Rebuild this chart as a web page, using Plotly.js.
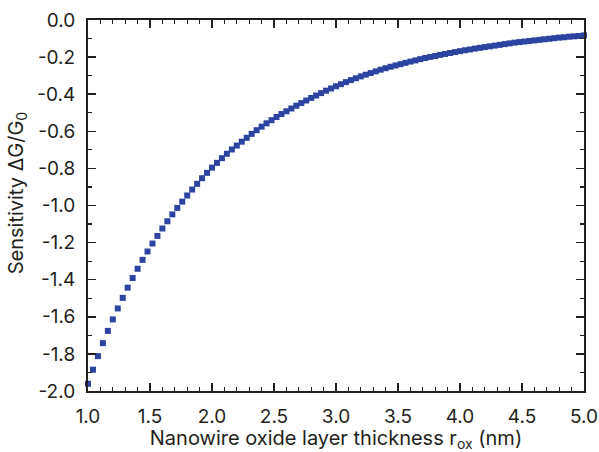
<!DOCTYPE html>
<html>
<head>
<meta charset="utf-8">
<script src="https://cdn.plot.ly/plotly-3.0.1.min.js"></script>
<style>
  html, body { margin: 0; padding: 0; background: #fff; }
  #chart { width: 599px; height: 452px; }
</style>
</head>
<body>
<div id="chart"></div>
<script>
// Oxide layer thickness r_ox (nm)
const thickness = [
  1.00, 1.04, 1.08, 1.12, 1.16, 1.20, 1.24, 1.28, 1.32, 1.36,
  1.40, 1.44, 1.48, 1.52, 1.56, 1.60, 1.64, 1.68, 1.72, 1.76,
  1.80, 1.84, 1.88, 1.92, 1.96, 2.00, 2.04, 2.08, 2.12, 2.16,
  2.20, 2.24, 2.28, 2.32, 2.36, 2.40, 2.44, 2.48, 2.52, 2.56,
  2.60, 2.64, 2.68, 2.72, 2.76, 2.80, 2.84, 2.88, 2.92, 2.96,
  3.00, 3.04, 3.08, 3.12, 3.16, 3.20, 3.24, 3.28, 3.32, 3.36,
  3.40, 3.44, 3.48, 3.52, 3.56, 3.60, 3.64, 3.68, 3.72, 3.76,
  3.80, 3.84, 3.88, 3.92, 3.96, 4.00, 4.04, 4.08, 4.12, 4.16,
  4.20, 4.24, 4.28, 4.32, 4.36, 4.40, 4.44, 4.48, 4.52, 4.56,
  4.60, 4.64, 4.68, 4.72, 4.76, 4.80, 4.84, 4.88, 4.92, 4.96,
  5.00
];

// Sensitivity dG/G0 at each thickness
const sensitivity = [
  -1.961, -1.885, -1.812, -1.742, -1.676, -1.614, -1.555, -1.498, -1.443, -1.391,
  -1.341, -1.293, -1.248, -1.205, -1.164, -1.124, -1.085, -1.048, -1.013, -0.979,
  -0.946, -0.914, -0.883, -0.853, -0.824, -0.796, -0.770, -0.745, -0.721, -0.698,
  -0.677, -0.656, -0.635, -0.614, -0.594, -0.575, -0.557, -0.540, -0.523, -0.507,
  -0.492, -0.477, -0.462, -0.448, -0.434, -0.420, -0.407, -0.394, -0.381, -0.369,
  -0.357, -0.346, -0.335, -0.324, -0.314, -0.304, -0.295, -0.286, -0.277, -0.268,
  -0.260, -0.252, -0.245, -0.238, -0.231, -0.224, -0.218, -0.211, -0.205, -0.199,
  -0.194, -0.188, -0.183, -0.178, -0.173, -0.168, -0.163, -0.159, -0.154, -0.150,
  -0.146, -0.142, -0.138, -0.134, -0.130, -0.126, -0.122, -0.119, -0.116, -0.113,
  -0.110, -0.107, -0.104, -0.101, -0.098, -0.095, -0.093, -0.090, -0.088, -0.086,
  -0.083
];

const xTickValues = [1.0, 1.5, 2.0, 2.5, 3.0, 3.5, 4.0, 4.5, 5.0];
const xTickLabels = ['1.0', '1.5', '2.0', '2.5', '3.0', '3.5', '4.0', '4.5', '5.0'];
const yTickValues = [0.0, -0.2, -0.4, -0.6, -0.8, -1.0, -1.2, -1.4, -1.6, -1.8, -2.0];
const yTickLabels = ['0.0', '-0.2', '-0.4', '-0.6', '-0.8', '-1.0', '-1.2', '-1.4', '-1.6', '-1.8', '-2.0'];

const xTitle = 'Nanowire oxide layer thickness r<sub>ox</sub> (nm)';
const yTitle = 'Sensitivity \u0394G/G<sub>0</sub>';

const FONT = 'Inter, Liberation Sans, Arial, sans-serif';
const INK = '#231f20';

const trace = {
  type: 'scatter',
  mode: 'markers',
  x: thickness,
  y: sensitivity,
  cliponaxis: false,
  marker: { symbol: 'square', size: 6, color: '#2c44a0', line: { width: 0 } },
  hoverinfo: 'x+y'
};

const axisCommon = {
  showline: true,
  linecolor: INK,
  linewidth: 2,
  mirror: 'allticks',
  ticks: 'inside',
  ticklen: 8,
  tickwidth: 1.5,
  tickcolor: INK,
  showgrid: false,
  zeroline: false,
  tickfont: { family: FONT, size: 19, color: INK },
  ticklabelstandoff: 7
};

const layout = {
  width: 599,
  height: 452,
  margin: { l: 88, r: 15, t: 20, b: 61 },
  paper_bgcolor: '#ffffff',
  plot_bgcolor: '#ffffff',
  showlegend: false,
  font: { family: FONT, color: INK },
  xaxis: Object.assign({}, axisCommon, {
    range: [1.0, 5.0],
    tickmode: 'array',
    tickvals: xTickValues,
    ticktext: xTickLabels,
    minor: { dtick: 0.1, ticks: 'inside', ticklen: 4, tickwidth: 1.2, tickcolor: INK, showgrid: false },
    title: { text: xTitle, font: { family: FONT, size: 20, color: INK }, standoff: 4 }
  }),
  yaxis: Object.assign({}, axisCommon, {
    range: [-2.0, 0.0],
    tickmode: 'array',
    tickvals: yTickValues,
    ticktext: yTickLabels,
    minor: { dtick: 0.1, ticks: 'inside', ticklen: 4, tickwidth: 1.2, tickcolor: INK, showgrid: false }
  }),
  annotations: [{
    text: yTitle,
    xref: 'paper', yref: 'paper',
    x: -0.143, y: 0.533,
    xanchor: 'center', yanchor: 'middle',
    textangle: -90,
    showarrow: false,
    font: { family: FONT, size: 20, color: INK }
  }]
};

Plotly.newPlot('chart', [trace], layout, { staticPlot: true, displayModeBar: false });
</script>
</body>
</html>
